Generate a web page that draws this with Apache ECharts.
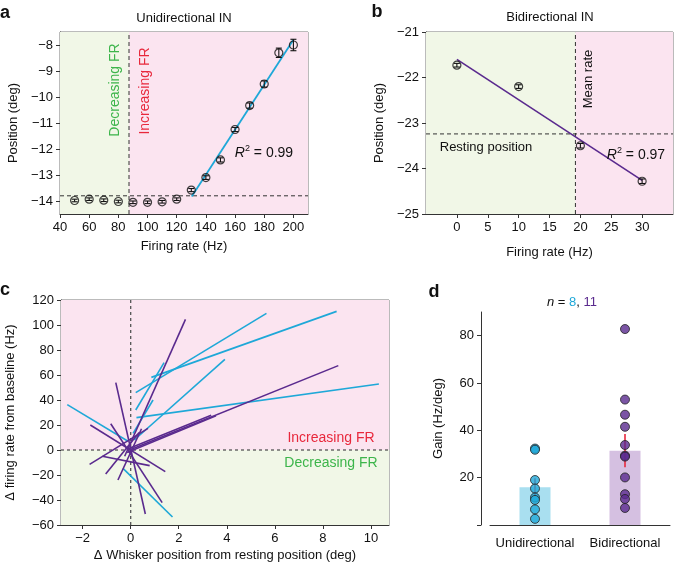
<!DOCTYPE html>
<html>
<head>
<meta charset="utf-8">
<script src="https://cdn.jsdelivr.net/npm/echarts@6/dist/echarts.min.js"></script>
<style>html,body{margin:0;padding:0;background:#fff}#chart{width:675px;height:566px}</style>
</head>
<body>
<div id="chart"></div>
<script>
'use strict';

// panel a — unidirectional IN
const aRate = [50, 60, 70, 80, 90, 100, 110, 120, 130, 140, 150, 160, 170, 180, 190, 200];
const aPos = [-13.98, -13.93, -13.97, -14.02, -14.05, -14.05, -14.03, -13.93, -13.58, -13.1, -12.42, -11.25, -10.33, -9.5, -8.3, -8.0];
const aErr = [0.05, 0.05, 0.05, 0.05, 0.05, 0.05, 0.05, 0.05, 0.06, 0.07, 0.08, 0.08, 0.1, 0.12, 0.18, 0.22];
const aFit = [[130.3, -13.83], [200, -7.8]];
const aSplitRate = 87.3;
const aRestPos = -13.8;
const aXTicks = [40, 60, 80, 100, 120, 140, 160, 180, 200];
const aYTicks = [-14, -13, -12, -11, -10, -9, -8];

// panel b — bidirectional IN
const bRate = [0, 10, 20, 30];
const bPos = [-21.73, -22.2, -23.5, -24.28];
const bErr = [0.04, 0.04, 0.05, 0.05];
const bFit = [[0, -21.6], [30, -24.26]];
const bMeanRate = 19.2;
const bRestPos = -23.24;
const bXTicks = [0, 5, 10, 15, 20, 25, 30];
const bYTicks = [-25, -24, -23, -22, -21];

// panel c — each segment [x1, y1, x2, y2]
const cUni = [
  [0.21, 45.9, 5.65, 109.3],
  [0.86, 58.1, 8.57, 110.9],
  [0.21, 32, 1.39, 69.9],
  [0.15, 8, 3.92, 72.5],
  [0.24, 25.9, 10.33, 52.8],
  [0.1, 13.3, 0.93, 40],
  [-2.64, 36.3, -0.11, 7],
  [-0.32, -14.7, 1.74, -53.6]
];
const cBi = [
  [-0.25, -5, 2.28, 104.5],
  [-0.05, 0, 8.64, 67.5],
  [-0.15, -2, 3.55, 27.3],
  [-0.1, 1, 3.35, 27.8],
  [-0.62, 53.9, 0.61, -51.2],
  [-1.68, 20, 1.44, -17.3],
  [-1.71, -11.5, 0.72, 17.3],
  [-0.83, 21, 1.31, -42.1],
  [-1.04, -19.2, 0.35, 14],
  [-1.18, -5, 0.79, -12.5],
  [-0.53, -24, 0.45, 17]
];
const cXTicks = [-2, 0, 2, 4, 6, 8, 10];
const cYTicks = [-60, -40, -20, 0, 20, 40, 60, 80, 100, 120];

// panel d — gain
const dCats = ['Unidirectional', 'Bidirectional'];
const dMean = [15.9, 31.4];
const dSem = [[12.2, 19.8], [24.4, 38.4]];
const dUni = [32.3, 31.8, 19, 15.4, 11.6, 10.6, 6.6, 2.6];
const dBi = [82.8, 53, 46.6, 41.5, 33.8, 29.3, 28.9, 20.1, 13, 11, 7.2];
const dYTicks = [0, 20, 40, 60, 80];

const FONT = '"Liberation Sans", Arial, sans-serif';
const CYAN = '#1ea8d8';
const PURPLE = '#5a2a8e';
const RED = '#e8283c';
const GREEN = '#3db54b';
const BG_PINK = '#fbe4f0';
const BG_GREEN = '#f1f7e7';

const minus = (v) => String(v).replace('-', '\u2212');

function axis(gridIndex, min, max, name, nameGap, ticks, extra) {
  const a = {
    type: 'value', gridIndex, min, max, name, nameGap,
    nameLocation: 'middle',
    nameTextStyle: { color: '#111', fontSize: 13, fontFamily: FONT },
    axisLine: { show: true, onZero: false, lineStyle: { color: '#333', width: 1 } },
    axisTick: { show: true, length: 4, lineStyle: { color: '#333' }, customValues: ticks },
    axisLabel: { color: '#111', fontSize: 13, fontFamily: FONT, margin: 7, formatter: minus, customValues: ticks },
    splitLine: { show: false }
  };
  return Object.assign(a, extra || {});
}

function bg(i, areas) {
  return { type: 'line', xAxisIndex: i, yAxisIndex: i, data: [], silent: true, z: 1,
    markArea: { silent: true, data: areas } };
}
function seg(i, pts, style, z) {
  return { type: 'line', xAxisIndex: i, yAxisIndex: i, data: pts, symbol: 'none', silent: true,
    z: z || 2, lineStyle: style };
}
function errorBars(i, data, cap, color, width) {
  return {
    type: 'custom', xAxisIndex: i, yAxisIndex: i, data, silent: true, z: 4,
    encode: { x: 0, y: [1, 2] },
    renderItem: (params, api) => {
      const lo = api.coord([api.value(0), api.value(1)]);
      const hi = api.coord([api.value(0), api.value(2)]);
      const st = { stroke: color, lineWidth: width };
      const kids = [{ type: 'line', shape: { x1: lo[0], y1: lo[1], x2: hi[0], y2: hi[1] }, style: st }];
      if (cap) {
        kids.push({ type: 'line', shape: { x1: lo[0] - cap, y1: lo[1], x2: lo[0] + cap, y2: lo[1] }, style: st });
        kids.push({ type: 'line', shape: { x1: hi[0] - cap, y1: hi[1], x2: hi[0] + cap, y2: hi[1] }, style: st });
      }
      return { type: 'group', children: kids };
    }
  };
}
function segments(i, segs, color, z) {
  return {
    type: 'custom', xAxisIndex: i, yAxisIndex: i, data: segs, silent: true, z: z || 3,
    encode: { x: [0, 2], y: [1, 3] },
    renderItem: (params, api) => {
      const p = api.coord([api.value(0), api.value(1)]);
      const q = api.coord([api.value(2), api.value(3)]);
      return { type: 'line', shape: { x1: p[0], y1: p[1], x2: q[0], y2: q[1] },
        style: { stroke: color, lineWidth: 1.6 } };
    }
  };
}
function circles(i, xs, ys) {
  return { type: 'scatter', xAxisIndex: i, yAxisIndex: i, data: xs.map((x, k) => [x, ys[k]]),
    symbolSize: 8, silent: true, z: 5,
    itemStyle: { color: 'rgba(255,255,255,0)', borderColor: '#111', borderWidth: 1.2 } };
}
function dots(i, cat, vals, color) {
  return { type: 'scatter', xAxisIndex: i, yAxisIndex: i, data: vals.map((v) => [cat, v]),
    symbolSize: 9, silent: true, z: 5,
    itemStyle: { color, borderColor: '#222', borderWidth: 1 } };
}
function txt(x, y, text, style, rotation) {
  return { type: 'text', x, y, rotation: rotation || 0, silent: true, z: 100,
    style: Object.assign({ text, fill: '#111', font: '13px ' + FONT,
      align: 'center', verticalAlign: 'middle', textAlign: 'center', textVerticalAlign: 'middle' }, style || {}) };
}
const rSquared = (v) => ({
  text: '{i|R}{s|2}{n| = ' + v + '}',
  rich: {
    i: { fontSize: 14, fontStyle: 'italic', fontFamily: FONT, fill: '#111' },
    s: { fontSize: 9, fontFamily: FONT, verticalAlign: 'top', padding: [0, 0, 8, 0], fill: '#111' },
    n: { fontSize: 14, fontFamily: FONT, fill: '#111' }
  }
});

const DASH = { color: '#333', width: 1, type: [4, 3] };
const DOT = { color: '#555', width: 1.3, type: [3, 3] };
const gridBox = { show: true, borderColor: '#777', borderWidth: 1, backgroundColor: 'transparent' };

const chart = echarts.init(document.getElementById('chart'), null, { renderer: 'canvas' });
chart.setOption({
  animation: false,
  grid: [
    Object.assign({ left: 60, top: 32, width: 248, height: 182 }, gridBox),
    Object.assign({ left: 426, top: 32, width: 247, height: 182 }, gridBox),
    Object.assign({ left: 61, top: 300, width: 328, height: 225 }, gridBox),
    { left: 490, top: 312, width: 180, height: 213 }
  ],
  xAxis: [
    axis(0, 40, 210, 'Firing rate (Hz)', 26, aXTicks),
    axis(1, -5, 35, 'Firing rate (Hz)', 32, bXTicks),
    axis(2, -2.9, 10.75, '\u0394 Whisker position from resting position (deg)', 24, cXTicks),
    {
      type: 'category', gridIndex: 3, data: dCats,
      axisLine: { lineStyle: { color: '#333' } },
      axisTick: { show: false },
      axisLabel: { color: '#111', fontSize: 13, fontFamily: FONT, margin: 12, interval: 0 }
    }
  ],
  yAxis: [
    axis(0, -14.5, -7.5, 'Position (deg)', 40, aYTicks),
    axis(1, -25, -21, 'Position (deg)', 40, bYTicks),
    axis(2, -60, 120, '\u0394 firing rate from baseline (Hz)', 44, cYTicks),
    axis(3, 0, 90, 'Gain (Hz/deg)', 36, dYTicks, { offset: 9 })
  ],
  series: [
    // a
    bg(0, [
      [{ xAxis: 40, itemStyle: { color: BG_GREEN } }, { xAxis: aSplitRate }],
      [{ xAxis: aSplitRate, itemStyle: { color: BG_PINK } }, { xAxis: 210 }]
    ]),
    seg(0, [[aSplitRate, -14.5], [aSplitRate, -7.5]], DASH),
    seg(0, [[40, aRestPos], [210, aRestPos]], DASH),
    seg(0, aFit, { color: CYAN, width: 1.8 }, 3),
    errorBars(0, aRate.map((r, k) => [r, aPos[k] - aErr[k], aPos[k] + aErr[k]]), 3, '#111', 1.1),
    circles(0, aRate, aPos),
    // b
    bg(1, [
      [{ xAxis: -5, itemStyle: { color: BG_GREEN } }, { xAxis: bMeanRate }],
      [{ xAxis: bMeanRate, itemStyle: { color: BG_PINK } }, { xAxis: 35 }]
    ]),
    seg(1, [[bMeanRate, -25], [bMeanRate, -21]], DASH),
    seg(1, [[-5, bRestPos], [35, bRestPos]], DASH),
    seg(1, bFit, { color: PURPLE, width: 1.6 }, 3),
    errorBars(1, bRate.map((r, k) => [r, bPos[k] - bErr[k], bPos[k] + bErr[k]]), 3, '#111', 1.1),
    circles(1, bRate, bPos),
    // c
    bg(2, [
      [{ yAxis: 0, itemStyle: { color: BG_PINK } }, { yAxis: 120 }],
      [{ yAxis: -60, itemStyle: { color: BG_GREEN } }, { yAxis: 0 }]
    ]),
    seg(2, [[0, -60], [0, 120]], DOT),
    seg(2, [[-2.9, 0], [10.75, 0]], DOT),
    segments(2, cUni, CYAN, 3),
    segments(2, cBi, PURPLE, 4),
    // d
    {
      type: 'bar', xAxisIndex: 3, yAxisIndex: 3, barWidth: 31, silent: true, z: 2,
      data: [
        { value: dMean[0], itemStyle: { color: '#a9dff0' } },
        { value: dMean[1], itemStyle: { color: '#d5c0e1' } }
      ]
    },
    errorBars(3, dSem.map((s, k) => [k, s[0], s[1]]), 0, RED, 1.6),
    dots(3, 0, dUni, CYAN),
    dots(3, 1, dBi, PURPLE)
  ],
  graphic: [
    txt(5, 13, 'a', { font: 'bold 18px ' + FONT }),
    txt(377, 12, 'b', { font: 'bold 18px ' + FONT }),
    txt(5, 290, 'c', { font: 'bold 18px ' + FONT }),
    txt(434, 292, 'd', { font: 'bold 18px ' + FONT }),
    txt(184, 18, 'Unidirectional IN'),
    txt(550, 17, 'Bidirectional IN'),
    txt(115, 90, 'Decreasing FR', { fill: GREEN, font: '14px ' + FONT }, Math.PI / 2),
    txt(145, 91, 'Increasing FR', { fill: RED, font: '14px ' + FONT }, Math.PI / 2),
    txt(264, 153, '', rSquared('0.99')),
    txt(588, 79, 'Mean rate', null, Math.PI / 2),
    txt(486, 147, 'Resting position'),
    txt(636, 155, '', rSquared('0.97')),
    txt(331, 438, 'Increasing FR', { fill: RED, font: '14px ' + FONT }),
    txt(331, 463, 'Decreasing FR', { fill: GREEN, font: '14px ' + FONT }),
    txt(572, 302, '', {
      text: '{i|n}{k| = }{c|8}{k|, }{p|11}',
      rich: {
        i: { fontSize: 13, fontStyle: 'italic', fontFamily: FONT, fill: '#111' },
        k: { fontSize: 13, fontFamily: FONT, fill: '#111' },
        c: { fontSize: 13, fontFamily: FONT, fill: CYAN },
        p: { fontSize: 13, fontFamily: FONT, fill: PURPLE }
      }
    })
  ]
});

// d: no label at 0
chart.setOption({ yAxis: [{}, {}, {}, { axisLabel: { formatter: (v) => (v === 0 ? '' : minus(v)) } }] });
</script>
</body>
</html>
